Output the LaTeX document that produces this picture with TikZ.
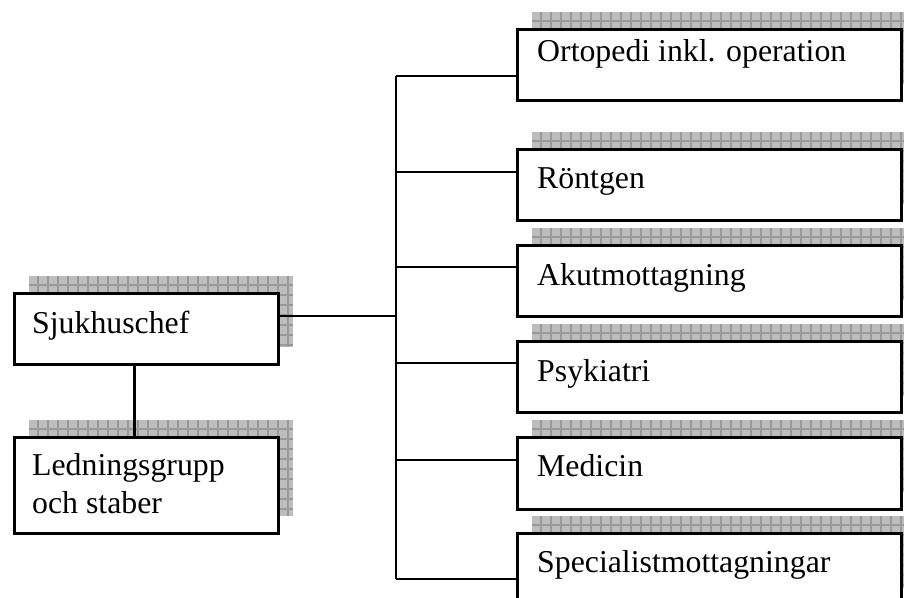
\documentclass[tikz,border=0pt]{standalone}
\usepackage{fontspec}
\setmainfont{Liberation Serif}
\definecolor{shfill}{gray}{0.74}
\definecolor{shgrid}{gray}{0.6}
\newcommand{\shadowbox}[4]{%
  \begin{scope}
    \clip (#1,#2) rectangle (#3,#4);
    \fill[shfill] (#1,#2) rectangle (#3,#4);
    \foreach \gx in {#1,...,#3} {\pgfmathparse{mod(\gx-#1,10)==9}\ifnum\pgfmathresult=1 \draw[shgrid, line width=1.1pt] (\gx,#2) -- (\gx,#4);\fi}
    \foreach \gy in {#2,...,#4} {\pgfmathparse{mod(\gy-#2,10)==9}\ifnum\pgfmathresult=1 \draw[shgrid, line width=1.1pt] (#1,\gy) -- (#3,\gy);\fi}
  \end{scope}}
\begin{document}
\begin{tikzpicture}[x=1pt,y=-1pt,
  box/.style={draw=black, line width=2.6pt, fill=white, rectangle, inner sep=0pt,
    anchor=north west, minimum width=384pt, minimum height=72pt},
  lbox/.style={box, minimum width=264pt},
  txt/.style={inner sep=0pt, anchor=base west, font=\fontsize{31.8}{38}\selectfont, align=left},
  conn/.style={draw=black, line width=2.6pt}]
\useasboundingbox (0,0) rectangle (904,597);
\fill[white] (0,0) rectangle (904,597);
% shadows
\shadowbox{29}{276}{293}{347}
\shadowbox{29}{420}{293}{516}
\shadowbox{532}{12}{916}{84}
\shadowbox{532}{132}{916}{204}
\shadowbox{532}{228}{916}{300}
\shadowbox{532}{324}{916}{396}
\shadowbox{532}{420}{916}{492}
\shadowbox{532}{516}{916}{588}
% boxes
\node[lbox, minimum height=71pt] (sj) at (13,292) {};
\node[lbox, minimum height=96pt] (led) at (13,436) {};
\node[box, minimum height=71pt] (b1) at (516,28) {};
\node[box, minimum height=71pt] (b2) at (516,148) {};
\node[box, minimum height=71pt] (b3) at (516,244) {};
\node[box, minimum height=71pt] (b4) at (516,340) {};
\node[box] (b5) at (516,436) {};
\node[box] (b6) at (516,532) {};
% texts
\node[txt] (tsj) at (32,333) {Sjukhuschef};
\node[txt] (tled) at (32,513) {Ledningsgrupp\\och staber};
\node[txt] (t1) at (537,61) {Ortopedi inkl. operation};
\node[txt] (t2) at (537,188) {Röntgen};
\node[txt] (t3) at (537,285) {Akutmottagning};
\node[txt] (t4) at (537,381) {Psykiatri};
\node[txt] (t5) at (537,476) {Medicin};
\node[txt] (t6) at (537,572) {Specialistmottagningar};
% connectors
\coordinate (jm) at (396,316);
\coordinate (j1) at (396,76);
\coordinate (j2) at (396,172);
\coordinate (j3) at (396,267);
\coordinate (j4) at (396,363);
\coordinate (j5) at (396,460);
\coordinate (j6) at (396,579);
\draw[conn] ([xshift=-12pt]sj.south) -- ([xshift=-12pt]led.north);
\draw[conn] (sj.east |- jm) -- (jm);
\draw[conn] (j1) -- (j6);
\draw[conn] (j1) -- (j1 -| b1.west);
\draw[conn] (j2) -- (j2 -| b2.west);
\draw[conn] (j3) -- (j3 -| b3.west);
\draw[conn] (j4) -- (j4 -| b4.west);
\draw[conn] (j5) -- (j5 -| b5.west);
\draw[conn] (j6) -- (j6 -| b6.west);
\end{tikzpicture}
\end{document}
